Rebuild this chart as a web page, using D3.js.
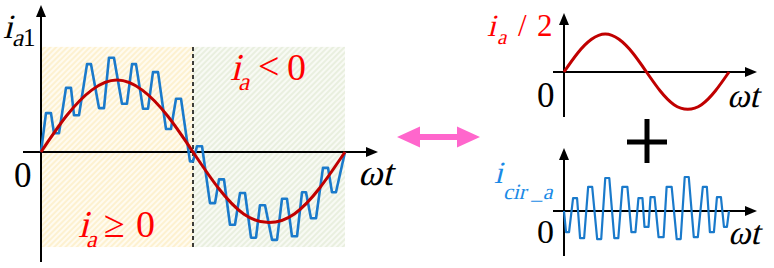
<!doctype html>
<html>
<head>
    <meta charset="UTF-8">
    <title>ia1 decomposition</title>
    <script src="https://cdn.jsdelivr.net/npm/d3@7"></script>
    <style>
        body { margin: 0; background: #fff; }
    </style>
</head>
<body>
    <div id="chart"></div>

    <script>
        var width = 774,
            height = 268;

        // sine samples, angle in degrees
        var sineDeg = [0, 30, 60, 90, 120, 150, 180, 210, 240, 270, 300, 330, 360];
        var sineVal = [0, 0.5, 0.86, 1, 0.86, 0.5, 0, -0.5, -0.86, -0.98, -0.86, -0.5, 0];

        // ia1 (blue, left): flat tops / bottoms, start and end angle + level
        var armStart = [5.9, 15.4, 29.6, 39.1, 54.5, 68.7, 80.5, 95.9, 107.8, 120.8, 132.6, 148.0, 159.9, 176.4,
                        184.7, 200.1, 210.8, 223.8, 235.7, 248.7, 259.3, 273.6, 285.4, 297.2, 309.1, 319.7, 333.9, 344.6];
        var armEnd   = [11.8, 21.3, 35.5, 45.0, 59.2, 74.6, 86.4, 101.8, 112.5, 126.7, 138.6, 153.9, 165.8, 180.0,
                        190.7, 206.1, 216.7, 229.7, 241.6, 254.6, 265.3, 279.5, 291.3, 303.2, 313.8, 325.7, 339.9, 349.3];
        var armLevel = [0.54, 0.26, 0.89, 0.51, 1.22, 0.61, 1.31, 0.67, 1.22, 0.60, 1.11, 0.32, 0.74, -0.13,
                        0.08, -0.71, -0.38, -1.01, -0.57, -1.19, -0.74, -1.22, -0.65, -1.17, -0.56, -0.92, -0.22, -0.56];

        // icir_a (blue, right bottom)
        var circStart = [4.4, 19.8, 35.1, 52.7, 72.4, 90.0, 109.8, 127.3, 147.1, 162.4, 175.6,
                         188.8, 206.3, 223.9, 245.9, 263.4, 283.2, 302.9, 318.3, 333.7, 349.0];
        var circEnd   = [11.0, 28.5, 43.9, 61.5, 81.2, 98.8, 118.5, 138.3, 155.9, 171.2, 184.4,
                         197.6, 217.3, 234.9, 254.6, 272.2, 292.0, 311.7, 327.1, 342.4, 355.5];
        var circLevel = [-0.64, 0.39, -0.82, 0.73, -0.85, 1.0, -0.82, 0.73, -0.64, 0.39, -0.48,
                         0.42, -0.79, 0.73, -0.85, 1.03, -0.79, 0.73, -0.64, 0.42, -0.48];

        // shaded half periods of the left plot
        var halfStart = [0, 180];
        var halfEnd = [180, 360];
        var shadeTop = 1.46, shadeBottom = -1.32;

        var red = "#c00000", blue = "#1a7acb";
        var serif = "'Liberation Serif', 'Times New Roman', serif";

        var svg = d3.select("#chart")
            .append("svg")
            .attr("width", width)
            .attr("height", height);

        var defs = svg.append("defs");

        function hatch(id, bg, fg) {
            var p = defs.append("pattern")
                .attr("id", id)
                .attr("patternUnits", "userSpaceOnUse")
                .attr("width", 4)
                .attr("height", 4)
                .attr("patternTransform", "rotate(45)");
            p.append("rect").attr("width", 4).attr("height", 4).attr("fill", bg);
            p.append("line")
                .attr("x1", 1).attr("x2", 1).attr("y1", 0).attr("y2", 4)
                .attr("stroke", fg).attr("stroke-width", 1.2);
        }
        hatch("hY", "#fffbf0", "#fdebbb");
        hatch("hG", "#f8faf4", "#e0e8d2");

        function flatPoints(starts, ends, levels) {
            var pts = [[0, 0]];
            starts.forEach(function (s, i) {
                pts.push([s, levels[i]]);
                pts.push([ends[i], levels[i]]);
            });
            pts.push([360, 0]);
            return pts;
        }

        var sinePts = sineDeg.map(function (d, i) { return [d, sineVal[i]]; });

        function arrowHead(g, tipX, tipY, dir, len, half) {
            var pts;
            if (dir === "up") pts = [[tipX, tipY], [tipX - half, tipY + len], [tipX + half, tipY + len]];
            else pts = [[tipX, tipY], [tipX - len, tipY - half], [tipX - len, tipY + half]];
            g.append("polygon")
                .attr("points", pts.map(function (p) { return p.join(","); }).join(" "))
                .attr("fill", "#000");
        }

        function axes(g, x0, y0, left, right, top, bottom, len, half) {
            g.append("line").attr("x1", left).attr("x2", right - 4).attr("y1", y0).attr("y2", y0)
                .attr("stroke", "#000").attr("stroke-width", 2);
            g.append("line").attr("x1", x0).attr("x2", x0).attr("y1", bottom).attr("y2", top + 4)
                .attr("stroke", "#000").attr("stroke-width", 2);
            arrowHead(g, right, y0, "right", len, half);
            arrowHead(g, x0, top, "up", len, half);
        }

        // no serif italic installed -> slant the upright serif instead
        function label(g, x, y, size, str, italic) {
            return g.append("text")
                .attr("transform", "translate(" + x + "," + y + ")" + (italic ? " skewX(-14)" : ""))
                .attr("font-size", size)
                .style("font-family", serif)
                .text(str);
        }

        // ---------- left plot ----------
        var xL = d3.scaleLinear().domain([0, 360]).range([41, 345]);
        var yL = d3.scaleLinear().domain([0, 1]).range([152, 80]);

        var left = svg.append("g");

        left.selectAll(".half")
            .data(halfStart)
            .enter()
            .append("rect")
            .attr("class", "half")
            .attr("x", function (d) { return xL(d); })
            .attr("width", function (d, i) { return xL(halfEnd[i]) - xL(d); })
            .attr("y", yL(shadeTop))
            .attr("height", yL(shadeBottom) - yL(shadeTop))
            .attr("fill", function (d, i) { return i === 0 ? "url(#hY)" : "url(#hG)"; });

        left.append("line")
            .attr("x1", xL(180)).attr("x2", xL(180))
            .attr("y1", yL(shadeTop)).attr("y2", yL(shadeBottom))
            .attr("stroke", "#000")
            .attr("stroke-width", 1.5)
            .attr("stroke-dasharray", "4,3");

        axes(left, xL(0), yL(0), 23, 378, 5, 262, 12, 5);

        var lineL = d3.line()
            .x(function (d) { return xL(d[0]); })
            .y(function (d) { return yL(d[1]); });

        left.append("path")
            .attr("d", lineL(flatPoints(armStart, armEnd, armLevel)))
            .attr("fill", "none")
            .attr("stroke", blue)
            .attr("stroke-width", 2.6)
            .attr("stroke-linejoin", "round");

        left.append("path")
            .attr("d", lineL.curve(d3.curveNatural)(sinePts))
            .attr("fill", "none")
            .attr("stroke", red)
            .attr("stroke-width", 3);

        // labels
        label(left, 3, 38, 34, "i", true);
        label(left, 12, 46, 25, "a", true);
        label(left, 23, 46, 25, "1", false);

        label(left, 14, 187, 35, "0", false);
        label(left, 358, 185, 37, "ωt", true);

        var lt = left.append("g").attr("fill", "#ff0000");
        label(lt, 230, 80, 38, "i", true);
        label(lt, 238, 90, 25, "a", true);
        label(lt, 258, 79, 38, "<", false);
        label(lt, 287, 80, 38, "0", false);

        label(lt, 78, 237, 38, "i", true);
        label(lt, 86, 247, 24, "a", true);
        label(lt, 104, 237, 38, "≥", false);
        label(lt, 136, 237, 38, "0", false);

        // ---------- double arrow ----------
        var ay = 137, ax0 = 397, ax1 = 480, hl = 23, hh = 10.5, sh = 3;
        svg.append("polygon")
            .attr("points", [[ax0, ay], [ax0 + hl, ay - hh], [ax0 + hl, ay - sh], [ax1 - hl, ay - sh], [ax1 - hl, ay - hh],
                [ax1, ay], [ax1 - hl, ay + hh], [ax1 - hl, ay + sh], [ax0 + hl, ay + sh], [ax0 + hl, ay + hh]]
                .map(function (p) { return p.join(","); }).join(" "))
            .attr("fill", "#ff66cc");

        // ---------- right top: ia / 2 ----------
        var xR = d3.scaleLinear().domain([0, 360]).range([564, 729]);
        var yRT = d3.scaleLinear().domain([0, 1]).range([72, 34]);
        var yRB = d3.scaleLinear().domain([0, 1]).range([211, 178]);

        var rt = svg.append("g");
        axes(rt, xR(0), yRT(0), 553, 757, 13, 117, 12, 5);
        rt.append("path")
            .attr("d", d3.line()
                .x(function (d) { return xR(d[0]); })
                .y(function (d) { return yRT(d[1]); })
                .curve(d3.curveNatural)(sinePts))
            .attr("fill", "none")
            .attr("stroke", red)
            .attr("stroke-width", 3);

        var rtl = rt.append("g").attr("fill", "#ff0000");
        label(rtl, 487, 36, 31, "i", true);
        label(rtl, 497, 44, 21, "a", true);
        label(rtl, 518, 36, 31, "/", false);
        label(rtl, 537, 36, 31, "2", false);

        label(rt, 537, 107, 35, "0", false);
        label(rt, 727, 107, 34, "ωt", true);

        // plus sign
        svg.append("line").attr("x1", 627).attr("x2", 667).attr("y1", 142).attr("y2", 142)
            .attr("stroke", "#000").attr("stroke-width", 5);
        svg.append("line").attr("x1", 647).attr("x2", 647).attr("y1", 119).attr("y2", 163)
            .attr("stroke", "#000").attr("stroke-width", 5);

        // ---------- right bottom: icir_a ----------
        var rb = svg.append("g");
        axes(rb, xR(0), yRB(0), 553, 757, 148, 256, 12, 5);
        rb.append("path")
            .attr("d", d3.line()
                .x(function (d) { return xR(d[0]); })
                .y(function (d) { return yRB(d[1]); })(flatPoints(circStart, circEnd, circLevel)))
            .attr("fill", "none")
            .attr("stroke", blue)
            .attr("stroke-width", 2.2)
            .attr("stroke-linejoin", "round");

        var rbl = rb.append("g").attr("fill", "#1a8ae6");
        label(rbl, 494, 183, 31, "i", true);
        label(rbl, 503, 199, 22, "cir _a", true);

        label(rb, 537, 243, 34, "0", false);
        label(rb, 728, 244, 34, "ωt", true);
    </script>
</body>
</html>
